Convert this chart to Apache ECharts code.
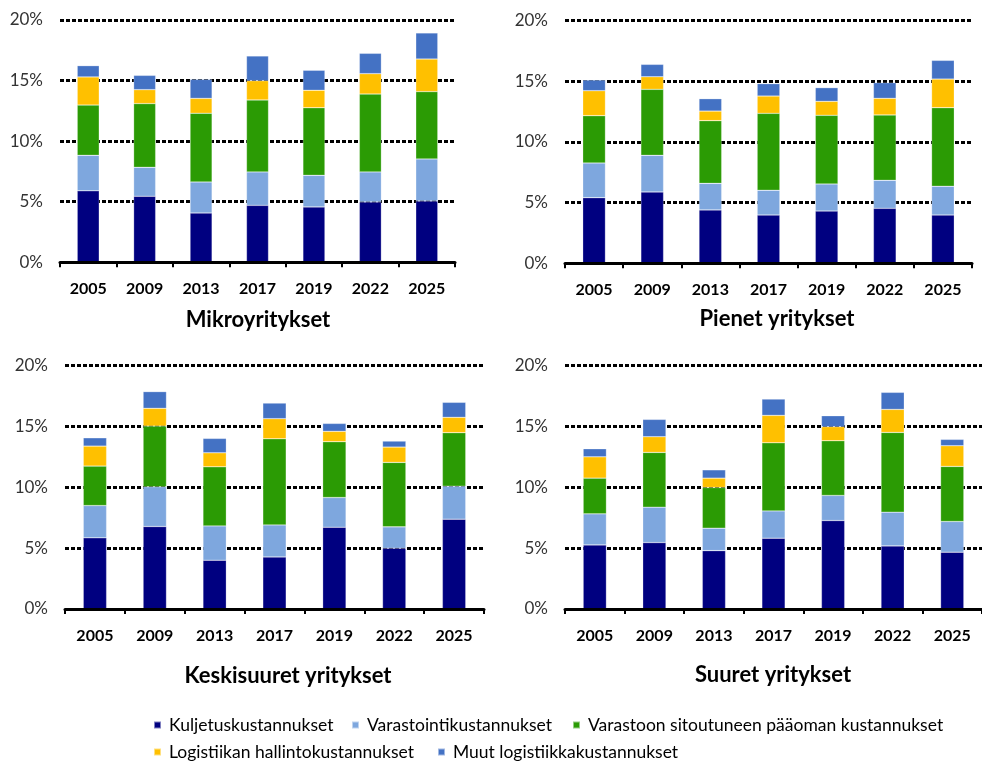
<!DOCTYPE html>
<html>
<head>
<meta charset="utf-8">
<script src="https://cdn.jsdelivr.net/npm/echarts@6/dist/echarts.min.js"></script>
<style>
html,body{margin:0;padding:0;background:#fff;}
#chart{width:982px;height:762px;}
</style>
</head>
<body>
<div id="chart"></div>
<script>
// Categories and tick labels
var years = ['2005', '2009', '2013', '2017', '2019', '2022', '2025'];
var yTicks = [0, 5, 10, 15, 20];
var seriesNames = ['Kuljetuskustannukset', 'Varastointikustannukset', 'Varastoon sitoutuneen pääoman kustannukset', 'Logistiikan hallintokustannukset', 'Muut logistiikkakustannukset'];
var panelTitles = ['Mikroyritykset', 'Pienet yritykset', 'Keskisuuret yritykset', 'Suuret yritykset'];

// Values (% of revenue), per panel, per cost component
var mikroKuljetus     = [5.9, 5.45, 4.07, 4.70, 4.57, 4.98, 5.06];
var mikroVarastointi  = [2.93, 2.39, 2.56, 2.76, 2.61, 2.48, 3.47];
var mikroPaaoma       = [4.15, 5.26, 5.67, 5.94, 5.58, 6.43, 5.56];
var mikroHallinto     = [2.32, 1.15, 1.23, 1.59, 1.44, 1.68, 2.69];
var mikroMuut         = [0.93, 1.18, 1.57, 2.04, 1.65, 1.68, 2.15];

var pienetKuljetus    = [5.41, 5.88, 4.40, 3.98, 4.31, 4.53, 3.98];
var pienetVarastointi = [2.86, 3.02, 2.19, 2.04, 2.23, 2.31, 2.37];
var pienetPaaoma      = [3.90, 5.44, 5.17, 6.34, 5.66, 5.39, 6.48];
var pienetHallinto    = [2.06, 1.04, 0.79, 1.43, 1.15, 1.37, 2.36];
var pienetMuut        = [0.88, 1.02, 1.02, 1.02, 1.13, 1.29, 1.54];

var keskiKuljetus     = [5.84, 6.77, 4.00, 4.27, 6.71, 4.99, 7.37];
var keskiVarastointi  = [2.65, 3.26, 2.82, 2.63, 2.44, 1.75, 2.71];
var keskiPaaoma       = [3.24, 4.98, 4.85, 7.07, 4.58, 5.29, 4.39];
var keskiHallinto     = [1.64, 1.46, 1.15, 1.65, 0.85, 1.26, 1.26];
var keskiMuut         = [0.68, 1.37, 1.18, 1.28, 0.65, 0.49, 1.23];

var suuretKuljetus    = [5.26, 5.45, 4.79, 5.81, 7.26, 5.18, 4.66];
var suuretVarastointi = [2.55, 2.91, 1.84, 2.24, 2.06, 2.77, 2.52];
var suuretPaaoma      = [2.93, 4.49, 3.34, 5.59, 4.49, 6.54, 4.52];
var suuretHallinto    = [1.75, 1.29, 0.77, 2.25, 1.15, 1.89, 1.70];
var suuretMuut        = [0.66, 1.42, 0.68, 1.34, 0.90, 1.40, 0.52];

var panelData = [
  [mikroKuljetus, mikroVarastointi, mikroPaaoma, mikroHallinto, mikroMuut],
  [pienetKuljetus, pienetVarastointi, pienetPaaoma, pienetHallinto, pienetMuut],
  [keskiKuljetus, keskiVarastointi, keskiPaaoma, keskiHallinto, keskiMuut],
  [suuretKuljetus, suuretVarastointi, suuretPaaoma, suuretHallinto, suuretMuut]
];

var colors = ['#000080', '#7EA7DE', '#2B9B04', '#FFC000', '#4472C4'];
var FONT = 'Lato';

var grids = [
  {left: 60, top: 20, width: 395, height: 242.3},
  {left: 565, top: 20.7, width: 407, height: 242.6},
  {left: 65, top: 365.3, width: 419, height: 243.7},
  {left: 565, top: 365.3, width: 419, height: 243.7}
];
var titlePos = [
  {x: 258, y: 322},
  {x: 777, y: 321},
  {x: 288, y: 678},
  {x: 773, y: 677}
];

var option = {
  animation: false,
  backgroundColor: '#ffffff',
  color: colors,
  textStyle: {fontFamily: FONT},
  title: panelTitles.map(function (t, i) {
    return {
      text: t,
      left: titlePos[i].x,
      top: titlePos[i].y - 13,
      textAlign: 'center',
      padding: 0,
      textStyle: {fontFamily: FONT, fontWeight: 'bold', fontSize: 22, color: '#000'}
    };
  }),
  grid: grids.map(function (g) {
    return {left: g.left, top: g.top, width: g.width, height: g.height, containLabel: false};
  }),
  xAxis: grids.map(function (g, i) {
    return {
      type: 'category',
      gridIndex: i,
      data: years,
      axisLine: {show: true, lineStyle: {color: '#000', width: 3}},
      axisTick: {show: true, length: 5, lineStyle: {color: '#000', width: 2}},
      axisLabel: {margin: 19, fontFamily: FONT, fontWeight: 'bold', fontSize: 16, color: '#000'},
      z: 5
    };
  }),
  yAxis: grids.map(function (g, i) {
    return {
      type: 'value',
      gridIndex: i,
      min: yTicks[0],
      max: yTicks[yTicks.length - 1],
      interval: yTicks[1] - yTicks[0],
      axisLine: {show: false},
      axisTick: {show: false},
      splitLine: {show: true, lineStyle: {color: '#000', width: 3, type: [4, 2]}},
      axisLabel: {margin: 17, fontFamily: FONT, fontSize: 17, color: '#333', formatter: '{value}%'}
    };
  }),
  legend: [
    {name: 0, left: 153, top: 716},
    {name: 1, left: 351, top: 716},
    {name: 2, left: 572, top: 716},
    {name: 3, left: 153, top: 743},
    {name: 4, left: 437, top: 743}
  ].map(function (l) {
    return {
      data: [seriesNames[l.name]],
      left: l.left,
      top: l.top,
      padding: 0,
      icon: 'rect',
      itemWidth: 7,
      itemHeight: 7,
      selectedMode: true,
      textStyle: {fontFamily: FONT, fontSize: 17.5, color: '#000', padding: [0, 0, 0, 3]}
    };
  }),
  series: []
};

panelData.forEach(function (panel, pi) {
  panel.forEach(function (vals, si) {
    option.series.push({
      type: 'bar',
      name: seriesNames[si],
      xAxisIndex: pi,
      yAxisIndex: pi,
      stack: 'panel' + pi,
      barWidth: '39%',
      data: vals,
      itemStyle: {color: colors[si], borderColor: 'rgba(255,255,255,0.5)', borderWidth: 0.5},
      z: 3
    });
  });
});

var chart = echarts.init(document.getElementById('chart'), null, {renderer: 'canvas'});
chart.setOption(option);
</script>
</body>
</html>
